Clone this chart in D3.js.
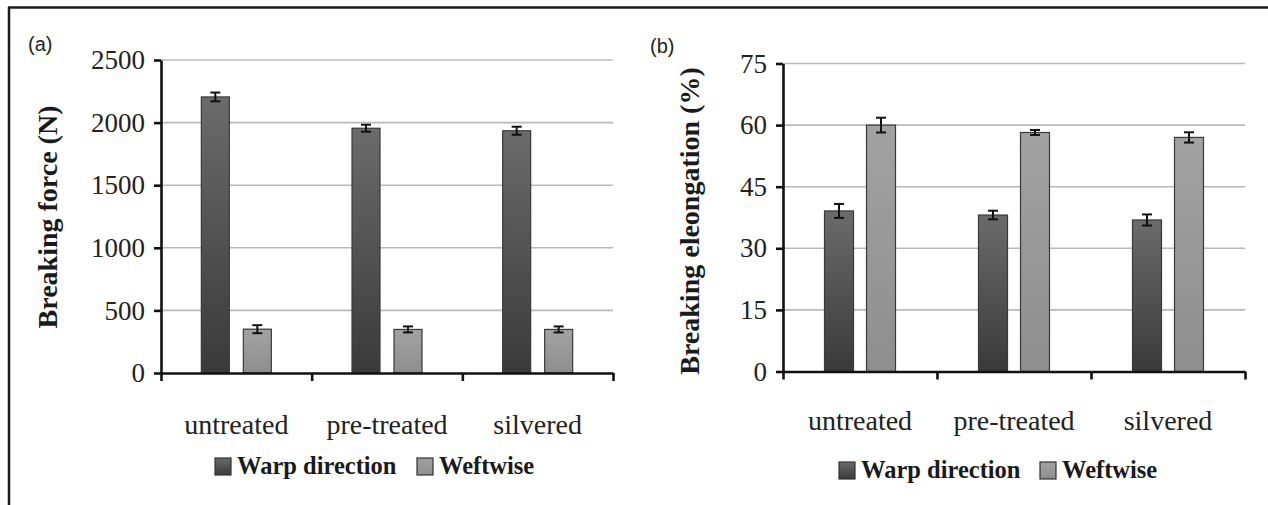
<!DOCTYPE html>
<html>
<head>
<meta charset="utf-8">
<script src="https://cdn.jsdelivr.net/npm/d3@7"></script>
<style>
  body { margin: 0; background: #fff; }
  svg { display: block; }
  .tick text { font-family: "Liberation Serif", "Times New Roman", serif; }
</style>
</head>
<body>
<div id="chart"></div>
<script>
// values
const categories = ["untreated", "pre-treated", "silvered"]
const seriesNames = ["Warp direction", "Weftwise"]

const forceWarp = [2205, 1955, 1935]
const forceWarpErr = [35, 28, 32]
const forceWeft = [350, 348, 348]
const forceWeftErr = [32, 24, 24]
const forceTicks = [0, 500, 1000, 1500, 2000, 2500]

const elongWarp = [39.1, 38.1, 36.9]
const elongWarpErr = [1.7, 1.05, 1.35]
const elongWeft = [60.0, 58.2, 57.0]
const elongWeftErr = [1.8, 0.6, 1.25]
const elongTicks = [0, 15, 30, 45, 60, 75]

const W = 1268, H = 505
const serif = '"Liberation Serif", "Times New Roman", serif'

const svg = d3.select("#chart").append("svg").attr("width", W).attr("height", H)

// gradients for the bars
const defs = svg.append("defs")
function grad(id, top, bottom) {
  var g = defs.append("linearGradient").attr("id", id)
    .attr("x1", 0).attr("y1", 0).attr("x2", 0).attr("y2", 1)
  g.append("stop").attr("offset", "0%").attr("stop-color", top)
  g.append("stop").attr("offset", "100%").attr("stop-color", bottom)
}
grad("gWarp", "#6b6b6b", "#3a3a3a")
grad("gWeft", "#a2a2a2", "#8e8e8e")
const fills = ["url(#gWarp)", "url(#gWeft)"]

// outer frame (top + left only)
svg.append("line").attr("x1", 8).attr("x2", W).attr("y1", 7.5).attr("y2", 7.5)
  .attr("stroke", "#1c1c1c").attr("stroke-width", 2.5)
svg.append("line").attr("x1", 9).attr("x2", 9).attr("y1", 7).attr("y2", H)
  .attr("stroke", "#1c1c1c").attr("stroke-width", 2.5)

function drawPanel(p) {
  var g = svg.append("g")

  var y = d3.scaleLinear().domain([0, p.ticks[p.ticks.length - 1]]).range([p.y0, p.y1])
  var x = d3.scaleBand().domain(categories).range([p.x0, p.x1])
  var half = p.barW + p.gap / 2
  var xs = d3.scaleBand().domain(seriesNames)
    .range([x.bandwidth() / 2 - half + p.shift, x.bandwidth() / 2 + half + p.shift])
    .paddingInner(p.gap / (p.barW + p.gap))

  // gridlines
  g.append("g").selectAll("line")
    .data(p.ticks.filter(d => d > 0))
    .join("line")
    .attr("x1", p.x0).attr("x2", p.x1)
    .attr("y1", d => y(d)).attr("y2", d => y(d))
    .attr("stroke", "#b9b9b9").attr("stroke-width", 1.6)

  // bars
  var rows = []
  categories.forEach(function(c, i) {
    p.series.forEach(function(s, j) {
      rows.push({cat: c, s: seriesNames[j], j: j, v: s.v[i], e: s.e[i]})
    })
  })

  var bg = g.append("g")
  bg.selectAll("rect").data(rows).join("rect")
    .attr("x", d => x(d.cat) + xs(d.s))
    .attr("width", xs.bandwidth())
    .attr("y", d => y(d.v))
    .attr("height", d => y(0) - y(d.v))
    .attr("fill", d => fills[d.j])
    .attr("stroke", "#3a3a3a").attr("stroke-width", 1.2)

  // error bars
  var eg = bg.selectAll("g.err").data(rows).join("g").attr("class", "err")
    .attr("stroke", "#111").attr("stroke-width", 2)
  eg.append("line")
    .attr("x1", d => x(d.cat) + xs(d.s) + xs.bandwidth() / 2)
    .attr("x2", d => x(d.cat) + xs(d.s) + xs.bandwidth() / 2)
    .attr("y1", d => y(d.v + d.e)).attr("y2", d => y(d.v - d.e))
  ;["+", "-"].forEach(function(sign) {
    eg.append("line")
      .attr("x1", d => x(d.cat) + xs(d.s) + xs.bandwidth() / 2 - 5)
      .attr("x2", d => x(d.cat) + xs(d.s) + xs.bandwidth() / 2 + 5)
      .attr("y1", d => y(sign == "+" ? d.v + d.e : d.v - d.e))
      .attr("y2", d => y(sign == "+" ? d.v + d.e : d.v - d.e))
  })

  // y axis
  var yAxis = g.append("g").attr("transform", `translate(${p.x0},0)`)
    .call(d3.axisLeft(y).tickValues(p.ticks).tickFormat(d3.format("d"))
      .tickSize(7).tickSizeOuter(0).tickPadding(9))
  yAxis.selectAll("text").attr("font-size", 27).attr("fill", "#222")
    .attr("font-family", serif)
  yAxis.selectAll("line, path").attr("stroke", "#111").attr("stroke-width", 2.6)

  // x axis: boundary ticks plus category labels
  var xb = d3.scaleLinear().domain([0, categories.length]).range([p.x0, p.x1])
  var xAxis = g.append("g").attr("transform", `translate(0,${p.y0})`)
    .call(d3.axisBottom(xb).tickValues(d3.range(categories.length + 1))
      .tickSize(8).tickSizeOuter(0).tickFormat(""))
  xAxis.selectAll("line, path").attr("stroke", "#111").attr("stroke-width", 2.6)

  var xl = g.append("g").attr("transform", `translate(0,${p.y0})`)
    .call(d3.axisBottom(x).tickSize(0).tickPadding(p.labelPad))
  xl.select("path").remove()
  xl.selectAll("text").attr("font-size", 28).attr("fill", "#222")
    .attr("font-family", serif)

  // axis title
  g.append("text")
    .attr("transform", `translate(${p.titleX},${p.titleY}) rotate(-90)`)
    .attr("text-anchor", "middle")
    .attr("font-family", serif).attr("font-weight", "bold")
    .attr("font-size", 28).attr("fill", "#1a1a1a")
    .text(p.title)

  // panel letter
  g.append("text").attr("x", p.letterX).attr("y", p.letterY)
    .attr("font-family", "Liberation Sans, Arial, sans-serif")
    .attr("font-size", 20).attr("fill", "#222")
    .text(p.letter)

  // legend
  var lg = g.append("g")
  seriesNames.forEach(function(s, j) {
    var lx = p.legend[j]
    lg.append("rect").attr("x", lx).attr("y", p.legendY - 8)
      .attr("width", 16).attr("height", 17)
      .attr("fill", fills[j]).attr("stroke", "#333").attr("stroke-width", 1.2)
    lg.append("text").attr("x", lx + 22).attr("y", p.legendY + 8)
      .attr("font-family", serif).attr("font-weight", "bold")
      .attr("font-size", 24.5).attr("fill", "#1a1a1a")
      .text(s)
  })
}

drawPanel({
  x0: 161, x1: 613, y0: 373, y1: 60,
  ticks: forceTicks, barW: 28, gap: 14, shift: 0,
  series: [{v: forceWarp, e: forceWarpErr}, {v: forceWeft, e: forceWeftErr}],
  labelPad: 41, title: "Breaking force (N)", titleX: 57, titleY: 217,
  letter: "(a)", letterX: 28, letterY: 51,
  legend: [215, 417], legendY: 466
})

drawPanel({
  x0: 783, x1: 1245, y0: 371.5, y1: 63.5,
  ticks: elongTicks, barW: 29, gap: 13, shift: 0,
  series: [{v: elongWarp, e: elongWarpErr}, {v: elongWeft, e: elongWeftErr}],
  labelPad: 39, title: "Breaking eleongation (%)", titleX: 699, titleY: 221,
  letter: "(b)", letterX: 650, letterY: 53,
  legend: [839, 1040], legendY: 470
})
</script>
</body>
</html>
